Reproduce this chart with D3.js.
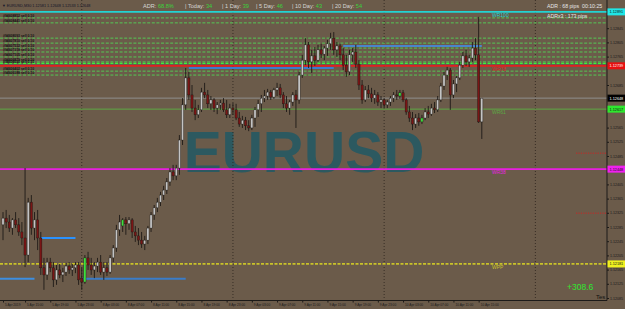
<!DOCTYPE html>
<html>
<head>
<meta charset="utf-8">
<script src="https://cdnjs.cloudflare.com/ajax/libs/d3/7.8.5/d3.min.js"></script>
<style>
html, body { margin: 0; padding: 0; background: #6b5b4a; overflow: hidden; }
svg { display: block; font-family: "Liberation Sans", Arial, sans-serif; }
</style>
</head>
<body>
<div class="chart"></div>
<script>
// EURUSD M30, bars from 5 Apr 11:30 to 10 Apr 15:30 (open, high, low, close)
var candles = [
  [1.12291,1.12327,1.12248,1.12310],[1.12310,1.12333,1.12282,1.12299],[1.12299,1.12319,1.12271,1.12282],
  [1.12282,1.12310,1.12263,1.12305],[1.12305,1.12327,1.12282,1.12291],[1.12291,1.12310,1.12260,1.12271],
  [1.12271,1.12299,1.12234,1.12254],[1.12254,1.12451,1.12172,1.12206],[1.12206,1.12367,1.12186,1.12355],
  [1.12355,1.12375,1.12263,1.12282],[1.12282,1.12327,1.12248,1.12305],[1.12305,1.12333,1.12220,1.12254],
  [1.12254,1.12271,1.12150,1.12170],[1.12170,1.12198,1.12108,1.12150],[1.12150,1.12198,1.12136,1.12186],
  [1.12186,1.12198,1.12158,1.12170],[1.12170,1.12186,1.12116,1.12136],[1.12136,1.12178,1.12122,1.12164],
  [1.12164,1.12181,1.12141,1.12150],[1.12150,1.12170,1.12130,1.12158],[1.12158,1.12184,1.12147,1.12175],
  [1.12175,1.12186,1.12153,1.12164],[1.12164,1.12181,1.12147,1.12170],[1.12170,1.12186,1.12155,1.12178],
  [1.12178,1.12186,1.12122,1.12136],[1.12141,1.12170,1.12108,1.12130],[1.12130,1.12206,1.12125,1.12198],
  [1.12198,1.12215,1.12164,1.12178],[1.12178,1.12198,1.12150,1.12164],[1.12164,1.12186,1.12141,1.12175],
  [1.12175,1.12198,1.12158,1.12186],[1.12186,1.12206,1.12150,1.12158],[1.12158,1.12186,1.12136,1.12170],
  [1.12170,1.12186,1.12147,1.12158],[1.12158,1.12206,1.12153,1.12198],[1.12198,1.12234,1.12186,1.12226],
  [1.12226,1.12291,1.12215,1.12277],[1.12277,1.12319,1.12260,1.12299],[1.12288,1.12310,1.12271,1.12305],
  [1.12305,1.12313,1.12263,1.12294],[1.12294,1.12313,1.12277,1.12305],[1.12305,1.12310,1.12254,1.12271],
  [1.12271,1.12288,1.12243,1.12260],[1.12260,1.12282,1.12234,1.12248],[1.12248,1.12271,1.12226,1.12237],
  [1.12237,1.12260,1.12220,1.12248],[1.12248,1.12288,1.12237,1.12282],[1.12282,1.12327,1.12271,1.12319],
  [1.12319,1.12347,1.12305,1.12339],[1.12339,1.12367,1.12327,1.12355],[1.12355,1.12384,1.12344,1.12375],
  [1.12375,1.12401,1.12361,1.12389],[1.12389,1.12423,1.12378,1.12412],[1.12412,1.12451,1.12401,1.12440],
  [1.12440,1.12460,1.12417,1.12429],[1.12429,1.12460,1.12417,1.12451],[1.12451,1.12544,1.12432,1.12530],
  [1.12530,1.12648,1.12516,1.12629],[1.12629,1.12733,1.12615,1.12705],[1.12705,1.12722,1.12643,1.12657],
  [1.12657,1.12685,1.12609,1.12620],[1.12620,1.12643,1.12586,1.12601],[1.12601,1.12629,1.12592,1.12615],
  [1.12615,1.12677,1.12609,1.12665],[1.12665,1.12691,1.12648,1.12657],[1.12657,1.12671,1.12620,1.12632],
  [1.12632,1.12654,1.12615,1.12643],[1.12643,1.12648,1.12609,1.12620],[1.12620,1.12637,1.12603,1.12629],
  [1.12629,1.12643,1.12615,1.12634],[1.12634,1.12648,1.12609,1.12615],[1.12615,1.12643,1.12592,1.12601],
  [1.12601,1.12632,1.12592,1.12620],[1.12620,1.12634,1.12601,1.12615],[1.12615,1.12632,1.12586,1.12592],
  [1.12592,1.12609,1.12567,1.12575],[1.12575,1.12598,1.12564,1.12586],[1.12586,1.12595,1.12558,1.12570],
  [1.12570,1.12586,1.12555,1.12564],[1.12564,1.12601,1.12558,1.12592],[1.12592,1.12623,1.12567,1.12615],
  [1.12615,1.12643,1.12595,1.12632],[1.12632,1.12657,1.12609,1.12648],[1.12648,1.12671,1.12637,1.12654],
  [1.12654,1.12674,1.12643,1.12665],[1.12665,1.12671,1.12643,1.12651],[1.12651,1.12677,1.12646,1.12671],
  [1.12671,1.12691,1.12654,1.12677],[1.12677,1.12688,1.12648,1.12657],[1.12657,1.12665,1.12620,1.12632],
  [1.12632,1.12654,1.12609,1.12620],[1.12620,1.12643,1.12601,1.12637],[1.12637,1.12665,1.12626,1.12657],
  [1.12657,1.12671,1.12564,1.12643],[1.12643,1.12722,1.12632,1.12713],[1.12713,1.12770,1.12705,1.12755],
  [1.12755,1.12817,1.12741,1.12798],[1.12798,1.12806,1.12733,1.12750],[1.12750,1.12784,1.12719,1.12767],
  [1.12767,1.12792,1.12739,1.12755],[1.12755,1.12798,1.12750,1.12784],[1.12784,1.12801,1.12761,1.12772],
  [1.12772,1.12795,1.12755,1.12789],[1.12789,1.12812,1.12767,1.12801],[1.12801,1.12832,1.12784,1.12817],
  [1.12817,1.12834,1.12770,1.12784],[1.12784,1.12806,1.12764,1.12795],[1.12795,1.12801,1.12755,1.12770],
  [1.12770,1.12789,1.12727,1.12741],[1.12741,1.12770,1.12708,1.12722],[1.12722,1.12784,1.12713,1.12770],
  [1.12770,1.12789,1.12750,1.12778],[1.12778,1.12798,1.12733,1.12744],[1.12744,1.12755,1.12671,1.12685],
  [1.12685,1.12699,1.12632,1.12643],[1.12643,1.12682,1.12637,1.12671],[1.12671,1.12685,1.12648,1.12660],
  [1.12660,1.12677,1.12637,1.12648],[1.12648,1.12671,1.12632,1.12657],[1.12657,1.12665,1.12626,1.12637],
  [1.12637,1.12654,1.12620,1.12643],[1.12643,1.12648,1.12620,1.12629],[1.12629,1.12643,1.12620,1.12637],
  [1.12637,1.12654,1.12626,1.12648],[1.12648,1.12665,1.12637,1.12657],[1.12657,1.12671,1.12643,1.12654],
  [1.12654,1.12671,1.12646,1.12663],[1.12663,1.12671,1.12637,1.12643],[1.12643,1.12648,1.12601,1.12609],
  [1.12609,1.12626,1.12581,1.12592],[1.12592,1.12609,1.12558,1.12575],[1.12575,1.12603,1.12564,1.12592],
  [1.12592,1.12606,1.12570,1.12581],[1.12581,1.12601,1.12575,1.12592],[1.12592,1.12620,1.12586,1.12609],
  [1.12609,1.12626,1.12592,1.12603],[1.12603,1.12632,1.12598,1.12620],[1.12620,1.12637,1.12606,1.12615],
  [1.12615,1.12654,1.12609,1.12643],[1.12643,1.12691,1.12637,1.12682],[1.12682,1.12722,1.12671,1.12713],
  [1.12713,1.12736,1.12699,1.12727],[1.12727,1.12733,1.12615,1.12657],[1.12657,1.12699,1.12648,1.12688],
  [1.12688,1.12710,1.12665,1.12705],[1.12705,1.12750,1.12699,1.12741],[1.12741,1.12778,1.12733,1.12767],
  [1.12767,1.12784,1.12739,1.12750],[1.12750,1.12770,1.12736,1.12761],[1.12761,1.12806,1.12750,1.12789],
  [1.12789,1.12817,1.12755,1.12770],[1.12770,1.12877,1.12578,1.12581],[1.12581,1.12648,1.12533,1.12648]
];
var signalBars = [26, 38, 126, 133];

var timeTickBars = [0, 7, 15, 23, 31, 39, 47, 55, 63, 71, 79, 87, 95, 103, 111, 119, 127, 135, 143, 151];
var timeTickLabels = ["5 Apr 2019", "5 Apr 15:00", "5 Apr 19:00", "5 Apr 23:00", "8 Apr 03:00", "8 Apr 07:00",
  "8 Apr 11:00", "8 Apr 15:00", "8 Apr 19:00", "8 Apr 23:00", "9 Apr 03:00", "9 Apr 07:00", "9 Apr 11:00",
  "9 Apr 15:00", "9 Apr 19:00", "9 Apr 23:00", "10 Apr 03:00", "10 Apr 07:00", "10 Apr 11:00", "10 Apr 15:00"];
var daySeparators = [25, 73, 121, 169];

var priceTicks = [1.12085, 1.12125, 1.12165, 1.12205, 1.12245, 1.12285, 1.12325, 1.12365, 1.12405, 1.12445,
  1.12485, 1.12525, 1.12565, 1.12605, 1.12645, 1.12685, 1.12725, 1.12765, 1.12805, 1.12845, 1.12885];

var pivotNames = ["WR100", "WR78", "WR61", "WR38", "WPP"];
var pivotPrices = [1.12891, 1.12739, 1.12617, 1.12448, 1.12181];
var bidPrice = 1.12648;

var orderPrices = [1.12874, 1.12860, 1.12817, 1.12803, 1.12789, 1.12778, 1.12764, 1.12750, 1.12746, 1.12724, 1.12713];
var orderLabels = ["#94608852 sell 0.10", "#94608441 sell 0.10", "#94608093 sell 0.10", "#94607810 sell 0.10",
  "#94607532 sell 0.10", "#94607318 sell 0.10", "#94607105 sell 0.10", "#94606879 sell 0.10",
  "#94606650 sell 0.10", "#94606402 sell 0.10", "#94606188 sell 0.10"];

var rangePrices = [1.12139, 1.12254, 1.12139, 1.12733, 1.12795];
var rangeFrom = [-1, 12, 25, 59, 108];
var rangeTo = [10, 23, 58, 105, 152];

var alertPrices = [1.12493, 1.12324];

var adrPct = "68.8%";
var adrNames = ["Today", "1 Day", "5 Day", "10 Day", "20 Day"];
var adrValues = [34, 39, 46, 43, 54];
var adrPips = 68, adrX3Pips = 173, barCountdown = "00:10:25", profit = "+308.6";

function chart() {
    var width = 625, height = 309;
    var plotRight = 607, plotBottom = 300.5;

    var x = d3.scaleLinear().domain([0, 169]).range([3, 535.35]);
    var y = d3.scaleLinear().domain([1.12085, 1.12885]).range([298, 14]);

    var svg = d3.select(".chart").append("svg")
            .attr("width", width)
            .attr("height", height);

    svg.append("rect").attr("width", width).attr("height", height).attr("fill", "#6b5b4a");

    svg.append("clipPath").attr("id", "plot")
        .append("rect").attr("x", 0).attr("y", 0).attr("width", plotRight).attr("height", plotBottom);

    var plot = svg.append("g").attr("clip-path", "url(#plot)");

    // watermark
    plot.append("text")
        .attr("x", 304).attr("y", 172)
        .attr("text-anchor", "middle")
        .attr("font-size", 57).attr("font-weight", "bold")
        .attr("fill", "#2c5960")
        .text("EURUSD");

    // day separators
    plot.selectAll(".sep").data(daySeparators).enter().append("line")
        .attr("x1", d => x(d)).attr("x2", d => x(d))
        .attr("y1", 0).attr("y2", plotBottom)
        .attr("stroke", "#2a221a").attr("stroke-dasharray", "1,2").attr("stroke-width", 0.8);

    // order lines
    plot.selectAll(".ord").data(orderPrices).enter().append("line")
        .attr("x1", 0).attr("x2", plotRight)
        .attr("y1", d => y(d)).attr("y2", d => y(d))
        .attr("stroke", (d, i) => i === 8 ? "#3cf03c" : "#55c855")
        .attr("stroke-width", (d, i) => i === 8 ? 1.4 : 1)
        .attr("stroke-dasharray", "3,1.6");

    plot.selectAll(".ordlab").data(orderLabels).enter().append("text")
        .attr("x", 3).attr("y", (d, i) => y(orderPrices[i]) - 0.8)
        .attr("font-size", 3.4).attr("font-weight", "bold")
        .attr("fill", "#111")
        .text(d => d);

    // pivot lines
    var pivotColors = ["#22d3d3", "#e02020", "#5da844", "#e81ee0", "#c9c22a"];
    plot.selectAll(".piv").data(pivotPrices).enter().append("line")
        .attr("x1", 0).attr("x2", plotRight)
        .attr("y1", d => y(d)).attr("y2", d => y(d))
        .attr("stroke", (d, i) => pivotColors[i])
        .attr("stroke-width", (d, i) => i === 2 ? 1 : 1.6)
        .attr("stroke-dasharray", (d, i) => i === 4 ? "3,1.5" : null);

    plot.append("line")
        .attr("x1", 0).attr("x2", plotRight)
        .attr("y1", y(bidPrice)).attr("y2", y(bidPrice))
        .attr("stroke", "#8e8e8e").attr("stroke-width", 1);

    plot.selectAll(".pivlab").data(pivotNames).enter().append("text")
        .attr("x", 492).attr("y", (d, i) => y(pivotPrices[i]) + 5)
        .attr("font-size", 5)
        .attr("fill", (d, i) => pivotColors[i])
        .text(d => d);

    // range segments
    var rangeColors = ["#3d8ee0", "#2a92ff", "#3a7cc8", "#3a7cd0", "#4a84cc"];
    plot.selectAll(".rng").data(rangePrices).enter().append("line")
        .attr("x1", (d, i) => x(rangeFrom[i])).attr("x2", (d, i) => x(rangeTo[i]))
        .attr("y1", d => y(d)).attr("y2", d => y(d))
        .attr("stroke", (d, i) => rangeColors[i]).attr("stroke-width", 2);

    // alert markers
    plot.selectAll(".alert").data(alertPrices).enter().append("line")
        .attr("x1", 576).attr("x2", plotRight - 1)
        .attr("y1", d => y(d)).attr("y2", d => y(d))
        .attr("stroke", "#d42020").attr("stroke-width", 0.9).attr("stroke-dasharray", "1.2,1.2");

    // candles
    var bar = plot.selectAll(".bar").data(candles).enter().append("g");
    bar.append("line")
        .attr("x1", (d, i) => x(i)).attr("x2", (d, i) => x(i))
        .attr("y1", d => y(d[1])).attr("y2", d => y(d[2]))
        .attr("stroke", "#1e1a16").attr("stroke-width", 0.9);
    bar.append("rect")
        .attr("x", (d, i) => x(i) - 1.1).attr("width", 2.2)
        .attr("y", d => y(Math.max(d[0], d[3])))
        .attr("height", d => Math.max(0.8, Math.abs(y(d[0]) - y(d[3]))))
        .attr("fill", (d, i) => signalBars.indexOf(i) >= 0 ? "#3ee03e" : (d[3] >= d[0] ? "#c4c4c4" : "#7a1515"))
        .attr("stroke", "#1e1a16").attr("stroke-width", 0.4);

    // axes
    var xAxis = d3.axisBottom(x)
        .tickValues(timeTickBars)
        .tickSize(2)
        .tickFormat((d, i) => timeTickLabels[i]);
    var gx = svg.append("g")
        .attr("transform", "translate(0," + plotBottom + ")")
        .call(xAxis);
    gx.select(".domain").attr("d", "M0,0H" + plotRight).attr("stroke", "#1c1a18");
    gx.selectAll("line").attr("stroke", "#1c1a18");
    gx.selectAll("text").attr("font-size", 3.2).attr("fill", "#1a1a1a")
        .attr("text-anchor", "start").attr("dx", 1.5).attr("dy", "0.3em");

    // price boxes sit on the axis and hide the tick labels they cover
    var boxPrices = pivotPrices.concat([bidPrice]);
    var boxFill = ["#20e6e6", "#e81010", "#2ee82e", "#f020f0", "#f0f020", "#000"];
    var boxText = ["#111", "#fff", "#111", "#111", "#111", "#fff"];

    var yAxis = d3.axisRight(y)
        .tickValues(priceTicks.filter(t => boxPrices.every(b => Math.abs(y(t) - y(b)) > 5)))
        .tickSize(2)
        .tickFormat(d3.format(".5f"));
    var gy = svg.append("g")
        .attr("transform", "translate(" + plotRight + ",0)")
        .call(yAxis);
    gy.select(".domain").attr("d", "M0,0V" + plotBottom).attr("stroke", "#1c1a18");
    gy.selectAll("line").attr("stroke", "#1c1a18");
    gy.selectAll("text").attr("font-size", 3.6).attr("fill", "#1a1a1a").attr("x", 3);

    var box = svg.selectAll(".pbox").data(boxPrices).enter().append("g")
        .attr("transform", d => "translate(" + (plotRight + 0.5) + "," + y(d) + ")");
    box.append("rect").attr("x", 0).attr("y", -3.5).attr("width", 18).attr("height", 7)
        .attr("fill", (d, i) => boxFill[i]);
    box.append("text").attr("x", 2).attr("y", 1.4).attr("font-size", 3.8)
        .attr("fill", (d, i) => boxText[i])
        .text(d => d3.format(".5f")(d));

    // header texts
    var last = candles[candles.length - 1];
    svg.append("text").attr("x", 2).attr("y", 7).attr("font-size", 3.8).attr("fill", "#141428")
        .text("\u25BC EURUSD,M30  " + last.map(d3.format(".5f")).join(" "));

    var info = svg.append("text").attr("x", 143).attr("y", 8).attr("font-size", 5.6).attr("fill", "#d6d6d6");
    info.append("tspan").text("ADR: ");
    info.append("tspan").attr("fill", "#3ad23a").text(adrPct);
    var statX = [185, 222, 256, 292, 332];
    adrNames.forEach(function (n, i) {
        var t = svg.append("text").attr("x", statX[i]).attr("y", 8).attr("font-size", 5.6).attr("fill", "#d6d6d6");
        t.append("tspan").text("| " + n + ": ");
        t.append("tspan").attr("fill", "#3ad23a").text(adrValues[i]);
    });

    svg.append("text").attr("x", 547).attr("y", 8).attr("font-size", 5.2).attr("fill", "#e6e6e6")
        .text("ADR : " + adrPips + " pips");
    svg.append("text").attr("x", 582).attr("y", 8).attr("font-size", 5.2).attr("fill", "#e6e6e6")
        .text(barCountdown);
    svg.append("text").attr("x", 547).attr("y", 18).attr("font-size", 5.2).attr("fill", "#e6e6e6")
        .text("ADRx3 : " + adrX3Pips + " pips");

    svg.append("text").attr("x", 567).attr("y", 290).attr("font-size", 8.5).attr("fill", "#2ee82e")
        .text(profit);
    svg.append("text").attr("x", 596).attr("y", 299).attr("font-size", 6).attr("fill", "#111")
        .text("Tes");
}

chart();
</script>
</body>
</html>
